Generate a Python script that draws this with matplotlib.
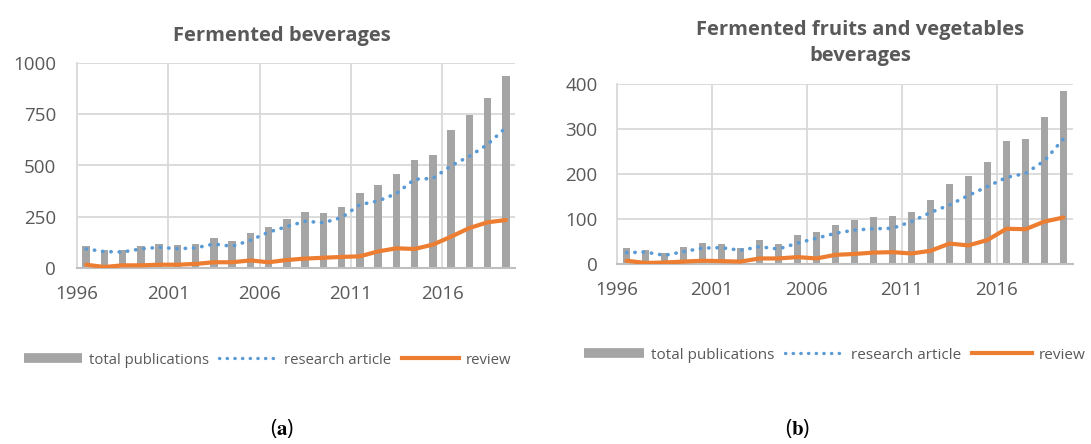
import numpy as np
import matplotlib
matplotlib.use("Agg")
import matplotlib.pyplot as plt
from matplotlib.lines import Line2D

# data, 1996-2019
years = list(range(1996, 2020))

bev_total = [106, 86, 89, 106, 119, 114, 119, 146, 130, 172, 202, 239,
             275, 268, 299, 366, 407, 460, 527, 550, 675, 748, 831, 938]
bev_research = [93, 80, 78, 93, 101, 94, 98, 117, 106, 135, 175, 202,
                228, 221, 246, 309, 327, 363, 433, 437, 499, 545, 603, 685]
bev_review = [16, 5, 13, 13, 16, 16, 20, 28, 28, 37, 28, 39,
              46, 50, 54, 57, 81, 96, 93, 114, 153, 195, 223, 234]

fv_total = [36, 32, 24, 39, 47, 46, 36, 53, 46, 66, 72, 88,
            99, 105, 108, 116, 143, 179, 196, 227, 275, 279, 328, 385]
fv_research = [26, 27, 20, 28, 36, 37, 31, 39, 34, 47, 58, 69,
               76, 79, 80, 95, 115, 132, 153, 173, 193, 202, 230, 279]
fv_review = [8, 3, 4, 6, 8, 7, 6, 13, 13, 16, 13, 21,
             23, 26, 27, 24, 30, 46, 42, 54, 79, 78, 95, 104]

GREY = "#a5a5a5"
BLUE = "#5b9bd5"
ORANGE = "#ed7d31"
TXT = "#595959"

plt.rcParams['font.family'] = ['Open Sans', 'DejaVu Sans']
plt.rcParams['mathtext.fontset'] = 'stix'

fig = plt.figure(figsize=(10.91, 4.44), dpi=100)


def panel(rect, total, research, review, title, ymax, ystep, label_x, title_y, ypad):
    ax = fig.add_axes(rect)
    x = np.arange(len(years))
    ax.bar(x, total, width=0.4, color=GREY, zorder=2)
    ax.plot(x, research, color=BLUE, lw=2.6, linestyle=(0, (0.1, 2.2)),
            dash_capstyle='round', zorder=3)
    ax.plot(x, review, color=ORANGE, lw=3, zorder=4, solid_capstyle='round')
    ax.set_xlim(-0.5, len(years) - 0.5)
    ax.set_ylim(0, ymax)
    ax.set_yticks(np.arange(0, ymax + 1, ystep))
    ticks = np.arange(0, len(years), 5) - 0.5
    ax.set_xticks(ticks)
    ax.set_xticklabels([str(years[int(t + 0.5)]) for t in ticks])
    ax.tick_params(length=0, labelsize=13.5, colors=TXT)
    ax.tick_params(axis='x', pad=12)
    ax.tick_params(axis='y', pad=ypad)
    ax.grid(True, color="#d9d9d9", lw=1.3, zorder=0)
    for s in ['top', 'right']:
        ax.spines[s].set_visible(False)
    ax.spines['left'].set_color("#d9d9d9")
    ax.spines['left'].set_linewidth(1.3)
    ax.spines['bottom'].set_color("#bfbfbf")
    ax.spines['bottom'].set_linewidth(1.5)
    ax.set_axisbelow(True)
    fig.text(label_x, title_y, title, ha='center', va='center',
             fontsize=14.5, fontweight='bold', color=TXT, linespacing=1.45)
    return ax


panel([77 / 1091, 1 - 268 / 444, 438 / 1091, 205 / 444],
      bev_total, bev_research, bev_review, "Fermented beverages",
      1000, 250, 282 / 1091, 1 - 36 / 444, 15)
panel([617 / 1091, 1 - 264.3 / 444, 456 / 1091, 180 / 444],
      fv_total, fv_research, fv_review,
      "Fermented fruits and vegetables\nbeverages",
      400, 100, 860 / 1091, 1 - 43 / 444, 14)

handles = [Line2D([], [], color=GREY, lw=7, solid_capstyle='butt'),
           Line2D([], [], color=BLUE, lw=2.4, linestyle=(0, (0.1, 2.2)),
                  dash_capstyle='round'),
           Line2D([], [], color=ORANGE, lw=3)]
names = ["total publications", "research article", "review"]
for cx, cy, fs in [(268 / 1091, 1 - 360 / 444, 10.7),
                   (835 / 1091, 1 - 355 / 444, 11)]:
    fig.legend(handles, names, loc='center', bbox_to_anchor=(cx, cy), ncol=3,
               frameon=False, fontsize=fs, labelcolor=TXT, handlelength=3.9,
               handletextpad=0.45, columnspacing=0.7)

fig.text(282 / 1091, 1 - 428 / 444, r'($\mathbf{a}$)', ha='center',
         va='center', fontsize=15, color='black')
fig.text(798 / 1091, 1 - 428 / 444, r'($\mathbf{b}$)', ha='center',
         va='center', fontsize=15, color='black')

fig.savefig("out.png", dpi=100)
